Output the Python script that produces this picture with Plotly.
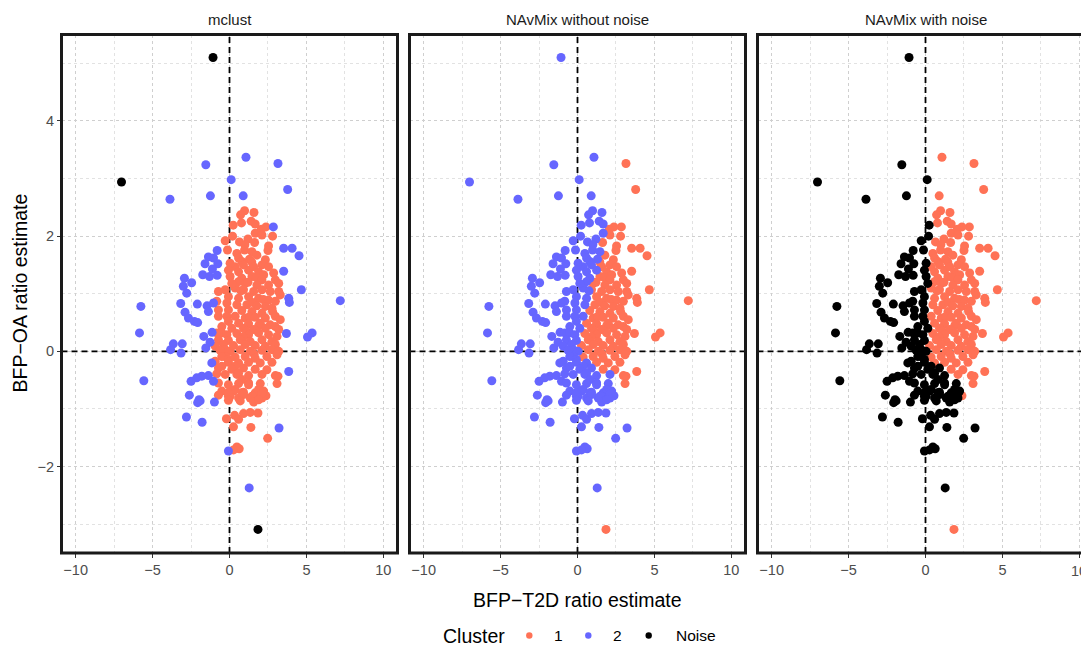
import plotly.graph_objects as go

# ---------------- data ----------------
# Points (BFP-T2D ratio estimate, BFP-OA ratio estimate), grouped by their
# cluster labels in the three panels: code = (mclust, NAvMix w/o noise, NAvMix with noise)
pts_N2N = [(-1.07, 5.10), (-7.02, 2.94)]
pts_N11 = [(1.85, -3.09)]
pts_221 = [(1.07, 3.37), (0.89, 2.70)]
pts_211 = [(3.15, 3.26), (3.78, 2.81), (2.85, 2.16), (3.52, 1.79), (4.07, 1.79), (4.52, 1.66),
           (3.52, 1.39), (4.67, 1.07), (3.85, 0.92), (3.89, 0.85), (7.20, 0.88), (3.70, 0.31),
           (5.07, 0.25), (5.37, 0.32), (3.85, -0.35)]
pts_22N = [(-1.54, 3.24), (0.11, 2.98), (-3.87, 2.64), (-1.24, 2.70), (-0.80, 1.75), (-1.37, 1.64),
           (-1.04, 1.62), (-1.59, 1.52), (-0.76, 1.52), (-1.11, 1.43), (-1.74, 1.33), (-1.30, 1.30),
           (-0.80, 1.32), (-2.93, 1.27), (-2.46, 1.19), (-3.00, 1.13), (-2.78, 1.01), (-5.76, 0.78),
           (-3.17, 0.83), (-2.09, 0.82), (-1.46, 0.79), (-1.37, 0.69), (-2.89, 0.68), (-2.67, 0.58),
           (-2.28, 0.52), (-2.07, 0.50), (-1.04, 0.84), (-5.85, 0.32), (-1.13, 0.33), (-1.67, 0.26),
           (-3.65, 0.13), (-3.07, 0.13), (-3.83, 0.03), (-3.15, -0.03), (-1.54, 0.06), (-1.26, 0.16),
           (-1.15, -0.20), (-5.57, -0.51), (-2.50, -0.52), (-2.13, -0.46), (-1.80, -0.43),
           (-1.37, -0.42), (-1.04, -0.52), (-2.61, -0.76), (-1.98, -0.84), (-2.07, -0.89),
           (-1.91, -0.86), (-0.98, -0.88), (-2.80, -1.14), (-1.78, -1.23), (3.22, -1.33),
           (-0.07, -1.73), (1.28, -2.37)]
pts_121 = [(0.98, 2.44), (1.59, 2.41), (0.72, 2.37), (0.78, 2.23), (1.41, 2.26), (1.67, 2.21),
           (1.67, 2.05), (1.20, 1.95), (0.65, 1.90), (1.00, 1.85), (0.48, 1.70), (0.98, 1.76),
           (1.46, 1.73), (0.59, 1.62), (1.30, 1.60), (0.80, 1.56), (0.37, 1.47), (0.91, 1.50),
           (0.59, 1.38), (1.24, 1.41), (0.80, 1.27), (0.59, 1.21), (0.37, 1.10), (0.75, 1.05),
           (0.59, 0.92), (0.48, 0.81), (0.37, 0.61), (0.59, -0.20), (2.11, -0.40), (2.37, -0.77)]
pts_12N = [(0.24, 2.19), (0.20, 2.00), (-0.28, 1.92), (-0.13, 1.76), (0.04, 1.53), (-0.07, 1.41),
           (0.04, 1.30), (0.15, 1.18), (-0.72, 1.04), (-0.28, 1.07), (-0.07, 0.95), (-0.83, 0.87),
           (-0.17, 0.84), (-0.72, 0.72), (-0.07, 0.72), (-0.72, 0.61), (-0.17, 0.61), (-0.07, 0.52),
           (-0.50, 0.43), (0.15, 0.40), (-0.83, 0.32), (-0.50, 0.32), (-0.17, 0.29), (-0.72, 0.20),
           (-0.07, 0.19), (-0.39, 0.12), (-0.93, 0.09), (-0.28, 0.03), (-0.61, 0.02), (0.04, 0.00),
           (-0.28, -0.09), (-0.50, -0.09), (-0.07, -0.14), (-0.93, -0.17), (-0.07, -0.19),
           (-0.72, -0.29), (-0.50, -0.26), (0.37, -0.26), (0.15, -0.31), (0.91, -0.29),
           (-0.83, -0.39), (-0.28, -0.40), (0.48, -0.40), (0.59, -0.38), (1.24, -0.42),
           (0.80, -0.49), (1.24, -0.55), (-0.72, -0.55), (-0.07, -0.58), (0.59, -0.56),
           (1.24, -0.58), (2.00, -0.56), (-0.50, -0.69), (0.26, -0.69), (0.37, -0.66),
           (0.91, -0.71), (0.80, -0.72), (1.67, -0.72), (1.89, -0.66), (2.22, -0.69),
           (-0.07, -0.78), (0.04, -0.78), (0.59, -0.81), (1.35, -0.81), (1.57, -0.78),
           (2.11, -0.81), (-0.72, -0.76), (-0.07, -0.72), (0.91, -0.75), (1.46, -0.78),
           (2.11, -0.73), (-0.07, -0.85), (0.70, -0.86), (1.57, -0.88), (1.89, -0.84),
           (0.33, -1.11), (0.59, -1.18), (0.91, -1.08), (1.35, -1.06), (1.85, -1.07),
           (-0.20, -1.17), (0.26, -1.31), (1.39, -1.32), (2.48, -1.51), (0.48, -1.66),
           (0.63, -1.69), (0.26, -1.71)]
pts_111 = [(2.37, 2.16), (2.07, 2.12), (2.11, 2.02), (2.80, 2.00), (1.63, 1.89), (2.54, 1.83),
           (2.50, 1.75), (1.78, 1.67), (2.33, 1.59), (1.45, 1.55), (1.57, 1.47), (2.11, 1.50),
           (2.54, 1.47), (1.89, 1.38), (2.87, 1.36), (1.46, 1.30), (1.75, 1.28), (2.22, 1.33),
           (2.11, 1.24), (2.98, 1.24), (3.20, 1.18), (1.02, 1.18), (1.20, 1.20), (1.78, 1.15),
           (2.54, 1.15), (0.91, 1.07), (1.57, 1.04), (2.11, 1.07), (2.65, 1.04), (3.20, 1.04),
           (3.30, 0.98), (1.24, 0.95), (1.89, 0.92), (2.20, 0.90), (2.54, 0.89), (2.98, 0.87),
           (1.13, 0.81), (1.50, 0.85), (1.78, 0.79), (2.33, 0.78), (2.76, 0.75), (0.80, 0.71),
           (1.46, 0.69), (2.11, 0.66), (2.80, 0.69), (1.02, 0.58), (1.30, 0.60), (1.67, 0.59),
           (2.33, 0.58), (2.98, 0.61), (3.30, 0.55), (0.59, 0.49), (1.24, 0.48), (1.90, 0.45),
           (2.00, 0.49), (2.65, 0.46), (0.91, 0.40), (1.10, 0.35), (1.57, 0.38), (2.33, 0.40),
           (2.98, 0.43), (3.20, 0.38), (0.48, 0.31), (1.24, 0.29), (1.89, 0.32), (2.54, 0.29),
           (3.09, 0.26), (0.90, 0.25), (0.70, 0.20), (1.35, 0.17), (2.11, 0.20), (2.76, 0.17),
           (0.26, 0.10), (1.02, 0.12), (1.67, 0.10), (2.33, 0.09), (2.98, 0.12), (0.70, 0.03),
           (1.35, 0.00), (2.11, 0.02), (2.76, 0.03), (3.20, 0.00), (0.37, -0.10), (1.02, -0.09),
           (1.60, -0.05), (1.67, -0.12), (2.43, -0.09), (3.09, -0.06), (1.24, -0.19), (2.00, -0.20),
           (2.76, -0.19), (1.67, -0.31), (2.43, -0.32), (2.98, -0.42), (3.15, -0.43), (3.09, -0.56)]

groups = [
    (("Noise", "2", "Noise"), pts_N2N),
    (("Noise", "1", "1"), pts_N11),
    (("2", "2", "1"), pts_221),
    (("2", "1", "1"), pts_211),
    (("2", "2", "Noise"), pts_22N),
    (("1", "2", "1"), pts_121),
    (("1", "2", "Noise"), pts_12N),
    (("1", "1", "1"), pts_111),
]

panel_titles = ["mclust", "NAvMix without noise", "NAvMix with noise"]
cluster_levels = ["1", "2", "Noise"]
cluster_colors = {"1": "#FF7256", "2": "#6666FF", "Noise": "#000000"}
x_ticks = [-10, -5, 0, 5, 10]
x_ticktext = ["\u221210", "\u22125", "0", "5", "10"]
x_minor = [-7.5, -2.5, 2.5, 7.5]
y_ticks = [-2, 0, 2, 4]
y_ticktext = ["\u22122", "0", "2", "4"]
y_minor = [-3, -1, 1, 3, 5]
y_range = [-3.5, 5.5]

# ---------------- geometry (pixels) ----------------
W, H = 1081, 646
FONT = "Liberation Sans, Arial, Helvetica, sans-serif"
panel_px = [(61.5, 397.5), (409.5, 745.5), (757.5, 1093.5)]
ytop, ybot = 34.5, 553.0
xr = 10.92
px_per_unit = (panel_px[0][1] - panel_px[0][0]) / (2 * xr)
GRID_MAJOR = "#CFCFCF"
GRID_MINOR = "#E2E2E2"
TICK_FONT = dict(size=14.5, color="#4D4D4D", family=FONT)


def fx(px):
    return px / W


def fy(py):
    return 1 - py / H


fig = go.Figure()
layout = dict(
    width=W, height=H, autosize=False,
    margin=dict(l=0, r=0, t=0, b=0, pad=0),
    plot_bgcolor="white", paper_bgcolor="white",
    font=dict(family=FONT, color="#000000"),
    showlegend=False,
)
shapes = []
annotations = []

for p in range(3):
    suffix = "" if p == 0 else str(p + 1)
    xa = "x" + suffix
    ya = "y" + suffix
    x0p, x1p = panel_px[p]
    x1clip = min(x1p, W)
    rng_hi = -xr + (x1clip - x0p) / px_per_unit

    # dashed reference lines at zero (drawn first so the points sit on top)
    fig.add_trace(go.Scatter(x=[-xr, rng_hi], y=[0, 0], mode="lines", xaxis=xa, yaxis=ya,
                             line=dict(color="black", width=1.8, dash="6px,4px"),
                             hoverinfo="skip", showlegend=False))
    fig.add_trace(go.Scatter(x=[0, 0], y=y_range, mode="lines", xaxis=xa, yaxis=ya,
                             line=dict(color="black", width=1.8, dash="6px,4px"),
                             hoverinfo="skip", showlegend=False))

    for lev in cluster_levels:
        xs, ys = [], []
        for codes, pts in groups:
            if codes[p] == lev:
                xs += [a for a, b in pts]
                ys += [b for a, b in pts]
        if not xs:
            continue
        fig.add_trace(go.Scatter(
            x=xs, y=ys, mode="markers", xaxis=xa, yaxis=ya,
            marker=dict(size=9, color=cluster_colors[lev], line=dict(width=0)),
            showlegend=False, name=lev, hoverinfo="x+y"))

    layout["xaxis" + suffix] = dict(
        domain=[fx(x0p), fx(x1clip)], range=[-xr, rng_hi], anchor=ya,
        tickmode="array", tickvals=x_ticks, ticktext=x_ticktext,
        ticks="outside", ticklen=3.5, tickwidth=1, tickcolor="#333333",
        tickfont=TICK_FONT,
        showgrid=True, gridcolor=GRID_MAJOR, gridwidth=1, griddash="dot",
        minor=dict(tickvals=x_minor, showgrid=True, gridcolor=GRID_MINOR, gridwidth=1,
                   griddash="dot", ticks=""),
        zeroline=False, showline=False, automargin=False, fixedrange=True,
    )
    layout["yaxis" + suffix] = dict(
        domain=[fy(ybot), fy(ytop)], range=y_range, anchor=xa,
        tickmode="array", tickvals=y_ticks, ticktext=y_ticktext,
        ticks="outside" if p == 0 else "", ticklen=3.5, tickwidth=1, tickcolor="#333333",
        showticklabels=(p == 0), tickfont=TICK_FONT,
        showgrid=True, gridcolor=GRID_MAJOR, gridwidth=1, griddash="dot",
        minor=dict(tickvals=y_minor, showgrid=True, gridcolor=GRID_MINOR, gridwidth=1,
                   griddash="dot", ticks=""),
        zeroline=False, showline=False, automargin=False, fixedrange=True,
    )
    # panel border
    shapes.append(dict(type="rect", xref="paper", yref="paper",
                       x0=fx(x0p), x1=fx(x1p), y0=fy(ybot), y1=fy(ytop),
                       line=dict(color="#1A1A1A", width=3), fillcolor="rgba(0,0,0,0)",
                       layer="above"))
    # strip title
    annotations.append(dict(text=panel_titles[p], x=fx((x0p + x1p) / 2), y=fy(19.5),
                            xref="paper", yref="paper", xanchor="center", yanchor="middle",
                            showarrow=False, font=dict(size=15, color="#1A1A1A", family=FONT)))

# last x tick label of the right panel, which runs past the page edge
annotations.append(dict(text=x_ticktext[-1], x=x_ticks[-1], xref="x3", y=fy(570.5), yref="paper",
                        xanchor="center", yanchor="middle", showarrow=False, font=TICK_FONT))

# axis titles
annotations.append(dict(text="BFP\u2212T2D ratio estimate", x=fx(577.5), y=fy(600),
                        xref="paper", yref="paper", xanchor="center", yanchor="middle",
                        showarrow=False, font=dict(size=19.5, color="black", family=FONT)))
annotations.append(dict(text="BFP\u2212OA ratio estimate", x=fx(20), y=fy(293.5),
                        xref="paper", yref="paper", xanchor="center", yanchor="middle",
                        textangle=-90, showarrow=False,
                        font=dict(size=19.5, color="black", family=FONT)))

# legend (drawn manually to match the ggplot layout)
leg_y = 635.5
annotations.append(dict(text="Cluster", x=fx(440.5), y=fy(leg_y), xref="paper", yref="paper",
                        xanchor="left", yanchor="middle", showarrow=False,
                        font=dict(size=19.5, color="black", family=FONT)))
legend_items = [("1", 529.3, 558.7, "center"), ("2", 588.3, 617.7, "center"),
                ("Noise", 648.7, 674.0, "left")]
for lev, dot_x, txt_x, anchor in legend_items:
    r = 3.2
    shapes.append(dict(type="circle", xref="paper", yref="paper",
                       x0=fx(dot_x - r), x1=fx(dot_x + r), y0=fy(leg_y + r), y1=fy(leg_y - r),
                       fillcolor=cluster_colors[lev], line=dict(width=0), layer="above"))
    annotations.append(dict(text=lev, x=fx(txt_x), y=fy(leg_y), xref="paper", yref="paper",
                            xanchor=anchor, yanchor="middle", showarrow=False,
                            font=dict(size=15.5, color="black", family=FONT)))

layout["shapes"] = shapes
layout["annotations"] = annotations
fig.update_layout(**layout)

fig.write_html("out.html")
